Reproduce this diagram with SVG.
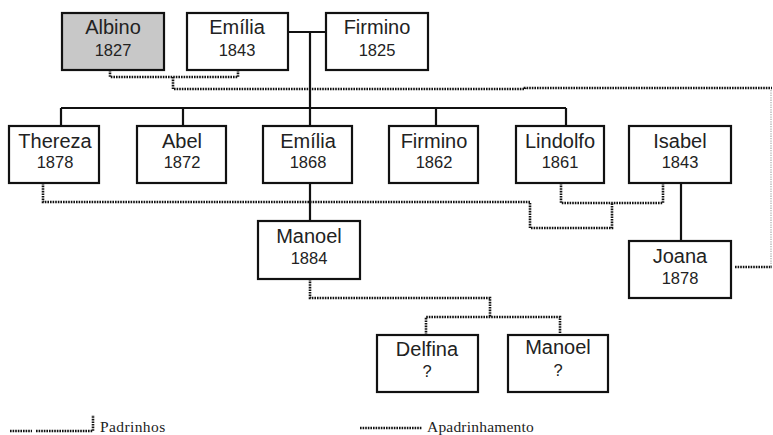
<svg xmlns="http://www.w3.org/2000/svg" width="773" height="435" viewBox="0 0 773 435">
<style>
.box{fill:#fff;stroke:#111;stroke-width:2.2}
.gray{fill:#c8c8c8}
.nm{font-family:"Liberation Sans",Arial,sans-serif;font-size:20px;fill:#222;text-anchor:middle}
.yr{font-family:"Liberation Sans",Arial,sans-serif;font-size:16.5px;fill:#222;text-anchor:middle}
.solid{fill:none;stroke:#111;stroke-width:2.2}
.dot{fill:none;stroke:#111;stroke-width:2.6;stroke-dasharray:1.6 1}
.faint{fill:none;stroke:#bbb;stroke-width:1.5;stroke-dasharray:1.3 1.1}
.leg{font-family:"Liberation Serif","Times New Roman",serif;font-size:15.5px;fill:#222}
</style>
<rect width="773" height="435" fill="#fff"/>
<g id="connectors">
<path class="solid" d="M288 32H326M310 32V108M61 108H566M61 108V126M183 108V126M310 108V126M436 108V126M566 108V126M310 183V221M681 183V241"/>
<path class="dot" d="M110 70V77H238V70M173 77V89H525V88H772"/>
<path class="faint" d="M771 90V267"/>
<path class="dot" d="M735 267H772"/>
<path class="dot" d="M43 183V202H530V228H612V203M561 183V203H663V183"/>
<path class="dot" d="M310 279V298H490V317M426 335V317H560V335"/>
</g>
<g id="albino"><rect class="box gray" x="62" y="13" width="102" height="57"/><text class="nm" x="113" y="34">Albino</text><text class="yr" x="113" y="56">1827</text></g>
<g id="emilia1843"><rect class="box" x="187" y="13" width="101" height="57"/><text class="nm" x="237" y="34">Emília</text><text class="yr" x="237" y="56">1843</text></g>
<g id="firmino1825"><rect class="box" x="326" y="13" width="102" height="57"/><text class="nm" x="377" y="34">Firmino</text><text class="yr" x="377" y="56">1825</text></g>
<g id="thereza"><rect class="box" x="9" y="126" width="90" height="57"/><text class="nm" x="55" y="148">Thereza</text><text class="yr" x="55" y="168">1878</text></g>
<g id="abel"><rect class="box" x="137" y="126" width="89" height="57"/><text class="nm" x="182" y="148">Abel</text><text class="yr" x="182" y="168">1872</text></g>
<g id="emilia1868"><rect class="box" x="263" y="126" width="89" height="57"/><text class="nm" x="308" y="148">Emília</text><text class="yr" x="308" y="168">1868</text></g>
<g id="firmino1862"><rect class="box" x="389" y="126" width="89" height="57"/><text class="nm" x="434" y="148">Firmino</text><text class="yr" x="434" y="168">1862</text></g>
<g id="lindolfo"><rect class="box" x="516" y="126" width="88" height="57"/><text class="nm" x="560" y="148">Lindolfo</text><text class="yr" x="560" y="168">1861</text></g>
<g id="isabel"><rect class="box" x="629" y="126" width="102" height="57"/><text class="nm" x="680" y="148">Isabel</text><text class="yr" x="680" y="168">1843</text></g>
<g id="manoel1884"><rect class="box" x="258" y="221" width="102" height="58"/><text class="nm" x="309" y="243">Manoel</text><text class="yr" x="309" y="264">1884</text></g>
<g id="joana"><rect class="box" x="629" y="241" width="102" height="57"/><text class="nm" x="680" y="263">Joana</text><text class="yr" x="680" y="284">1878</text></g>
<g id="delfina"><rect class="box" x="377" y="335" width="101" height="57"/><text class="nm" x="427" y="356">Delfina</text><text class="yr" x="427" y="377">?</text></g>
<g id="manoel2"><rect class="box" x="508" y="335" width="100" height="57"/><text class="nm" x="558" y="354">Manoel</text><text class="yr" x="558" y="376">?</text></g>
<g id="legend">
<path class="dot" d="M10 431H32M36 431H93V415"/>
<text class="leg" x="100" y="432" letter-spacing="0.4">Padrinhos</text>
<path class="dot" d="M360 428H422"/>
<text class="leg" x="427" y="432" letter-spacing="0.2">Apadrinhamento</text>
</g>
</svg>
